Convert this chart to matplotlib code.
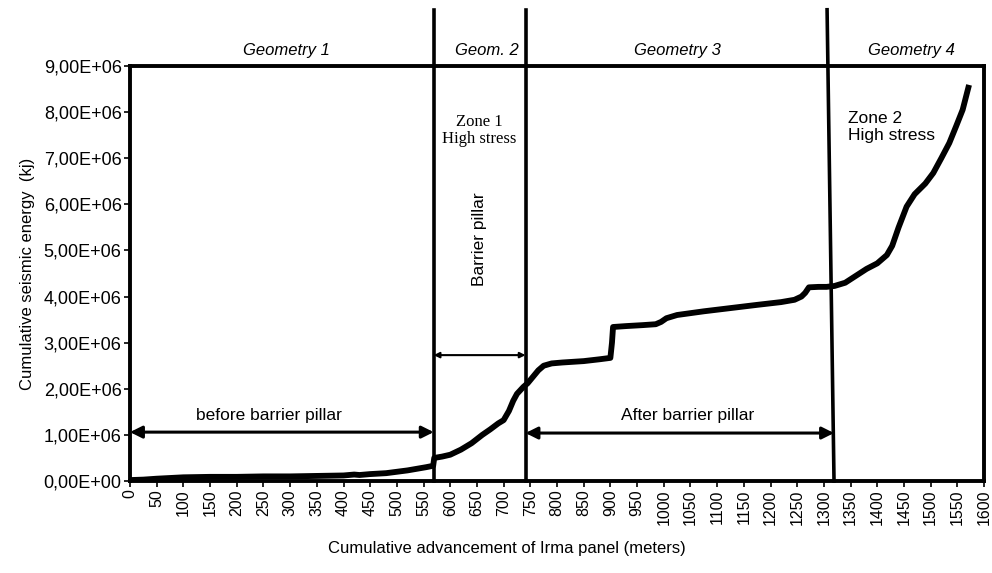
import matplotlib
matplotlib.use("Agg")
import matplotlib.pyplot as plt
from matplotlib.ticker import FuncFormatter

# ---------------- data ----------------
advance_m = [0, 25, 50, 100, 150, 200, 250, 300, 350, 400,
             420, 430, 450, 480, 500, 520, 540, 555, 568, 570,
             585, 600, 620, 640, 660, 675, 690, 700, 710, 718,
             725, 737, 745, 755, 765, 775, 790, 810, 850, 880,
             900, 903, 905, 930, 960, 985, 995, 1005, 1025, 1075,
             1125, 1175, 1220, 1245, 1258, 1265, 1272, 1290, 1305, 1320,
             1340, 1360, 1380, 1400, 1418, 1428, 1440, 1455, 1470, 1490,
             1505, 1520, 1535, 1548, 1560, 1572]
energy_e6 = [0.02, 0.03, 0.05, 0.08, 0.09, 0.09, 0.10, 0.10, 0.11, 0.12,
             0.14, 0.13, 0.15, 0.17, 0.20, 0.23, 0.27, 0.30, 0.33, 0.50,
             0.53, 0.57, 0.68, 0.82, 1.00, 1.12, 1.25, 1.32, 1.52, 1.74,
             1.89, 2.04, 2.12, 2.26, 2.40, 2.50, 2.55, 2.57, 2.60, 2.64,
             2.67, 3.00, 3.34, 3.36, 3.38, 3.40, 3.45, 3.53, 3.60, 3.68,
             3.75, 3.82, 3.88, 3.93, 4.00, 4.08, 4.20, 4.21, 4.21, 4.23,
             4.30, 4.45, 4.60, 4.72, 4.90, 5.10, 5.50, 5.95, 6.22, 6.45,
             6.68, 7.00, 7.33, 7.70, 8.05, 8.59]
energy = [v * 1e6 for v in energy_e6]

boundaries_bottom = [569, 741, 1319]
boundaries_top = [569, 741, 1306]
geometry_labels = ["Geometry 1", "Geom. 2", "Geometry 3", "Geometry 4"]
geometry_label_x = [293, 668, 1026, 1464]

x_ticks = list(range(0, 1601, 50))
y_ticks = [i * 1e6 for i in range(0, 10)]

# ---------------- figure ----------------
plt.rcParams['font.family'] = ['Liberation Sans', 'DejaVu Sans']
fig = plt.figure(figsize=(9.92, 5.73), dpi=100)
ax = fig.add_axes([130/992, 1 - 481/573, (984-130)/992, (481-66)/573])

ax.plot(advance_m, energy, color='black', lw=4.2, solid_capstyle='butt',
        solid_joinstyle='round', zorder=3)

ax.set_xlim(0, 1600)
ax.set_ylim(0, 9e6)
ax.set_xticks(x_ticks)
ax.set_xticklabels([str(t) for t in x_ticks], rotation=90, fontsize=11.5)
ax.set_yticks(y_ticks)
ax.yaxis.set_major_formatter(FuncFormatter(
    lambda v, p: ("%.2fE+%02d" % (v / 1e6 if v else 0, 6 if v else 0)).replace('.', ',')))
ax.tick_params(axis='both', direction='out', length=4, width=1.2, pad=2)
ax.tick_params(axis='y', labelsize=13)

for s in ax.spines.values():
    s.set_linewidth(2.8)

# vertical geometry boundaries extending above the axes
ytop = 10.22e6
for xb, xt in zip(boundaries_bottom, boundaries_top):
    ax.plot([xb, xt], [0, ytop], color='black', lw=2.6, clip_on=False, zorder=4)

for lab, xl in zip(geometry_labels, geometry_label_x):
    ax.text(xl, 9.33e6, lab, ha='center', va='center', fontsize=12, style='italic')

# arrows
def darrow(x0, x1, y, ms, lw):
    ax.annotate('', xy=(x0, y), xytext=(x1, y),
                arrowprops=dict(arrowstyle='<|-|>', color='black', lw=lw,
                                mutation_scale=ms, shrinkA=0, shrinkB=0))

darrow(0, boundaries_bottom[0], 1.06e6, 18, 2.2)
darrow(boundaries_bottom[1], boundaries_bottom[2], 1.04e6, 18, 2.2)
darrow(boundaries_bottom[0], boundaries_bottom[1], 2.73e6, 8, 1.5)

ax.text(261, 1.43e6, "before barrier pillar", ha='center', va='center', fontsize=12.5)
ax.text(1045, 1.43e6, "After barrier pillar", ha='center', va='center', fontsize=12.5)
ax.text(655, 5.25e6, "Barrier pillar", ha='center', va='center', fontsize=12.5, rotation=90)
ax.text(655, 7.6e6, "Zone 1\nHigh stress", ha='center', va='center', fontsize=12,
        family=['Liberation Serif', 'DejaVu Serif'], linespacing=1.1)
ax.text(1345, 7.67e6, "Zone 2\nHigh stress", ha='left', va='center', fontsize=12.5,
        linespacing=1.15)

ax.set_ylabel("Cumulative seismic energy  (kj)", fontsize=12, labelpad=6)
fig.text(507/992, 1 - 548/573, "Cumulative advancement of Irma panel (meters)",
         ha='center', va='center', fontsize=12)

fig.savefig("out.png", dpi=100)
